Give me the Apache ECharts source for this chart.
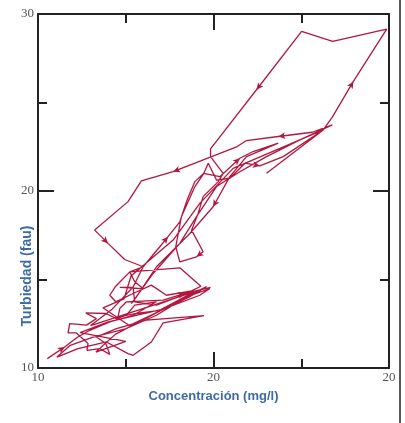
<!DOCTYPE html>
<html>
<head>
<meta charset="utf-8">
<script src="https://cdn.jsdelivr.net/npm/echarts@6/dist/echarts.min.js"></script>
<style>
  html, body { margin: 0; padding: 0; background: #fff; }
  #main { width: 405px; height: 423px; }
</style>
</head>
<body>
<div id="main"></div>
<script>
// trayectoria concentración (mg/l) - turbiedad (fau), en orden
const concentracion = [
  10.53, 11.52, 12.22, 12.95, 14.09, 15.42, 16.75, 15.51, 15.04, 14.47,
  13.86, 12.72, 13.33, 12.76, 11.81, 11.71, 12.19, 12.85, 12.79, 13.52,
  14.09, 13.86, 13.33, 14.47, 16.18, 19.45, 17.13, 16.46, 15.42, 15.13,
  13.90, 12.28, 11.08, 11.84, 13.14, 15.04, 16.75, 18.46, 19.79, 19.22,
  16.94, 15.61, 14.56, 14.66, 15.04, 17.13, 18.37, 19.83, 18.75, 16.75,
  15.51, 15.42, 14.66, 15.99, 15.51, 15.23, 18.08, 19.28, 18.75, 17.32,
  16.46, 15.42, 14.43, 14.09, 14.43, 15.23, 15.99, 16.94, 17.41, 18.08,
  18.46, 18.94, 19.45, 19.70, 20.17, 20.93, 21.79, 22.64, 23.97, 26.25,
  26.77, 27.97, 29.87, 26.79, 25.02, 22.45, 19.83, 19.83, 20.55, 20.27,
  19.41, 19.13, 18.75, 19.41, 19.03, 18.08, 17.85, 18.17, 18.94, 19.45,
  20.36, 21.50, 22.26, 23.69, 21.88, 20.93, 19.98, 18.65, 17.51, 16.75,
  15.61, 15.32, 16.56, 18.08, 19.03, 20.17, 21.50, 23.02, 24.92, 26.77,
  25.63, 23.69, 21.88, 21.35, 17.70, 15.89, 15.13, 13.23, 13.99, 14.94,
  15.99, 15.42, 14.20, 13.00, 18.90, 17.00, 14.00, 12.40, 15.00, 13.30,
  14.40, 19.60, 18.60, 15.20, 13.70, 14.90, 15.30,
  17.70, 19.22, 21.12, 26.25, 23.02
];
const turbiedad = [
  10.53, 11.19, 11.72, 12.13, 12.60, 12.98, 13.74, 13.55, 12.98, 12.79,
  13.08, 13.11, 12.79, 12.42, 12.51, 11.98, 11.98, 11.38, 11.00, 11.09,
  10.77, 11.38, 11.75, 12.23, 12.70, 12.96, 12.55, 11.47, 10.72, 10.81,
  11.47, 11.09, 10.62, 11.28, 11.75, 12.23, 12.98, 14.02, 14.49, 14.11,
  13.26, 13.08, 12.89, 13.36, 13.74, 13.83, 14.21, 14.55, 14.30, 13.55,
  13.74, 14.55, 14.55, 14.49, 14.87, 15.43, 15.66, 14.62, 14.36, 14.11,
  14.68, 14.21, 13.74, 14.11, 14.62, 15.43, 15.72, 16.85, 17.42, 18.26,
  19.40, 20.53, 21.00, 21.57, 20.62, 20.72, 21.57, 21.42, 21.94, 23.45,
  24.17, 26.19, 29.15, 28.45, 29.02, 25.72, 22.38, 21.94, 21.00, 20.53,
  19.68, 18.74, 17.79, 16.57, 16.28, 16.00, 16.85, 18.55, 20.25, 21.00,
  20.81, 21.85, 22.23, 22.70, 21.94, 20.81, 19.11, 17.60, 16.47, 15.72,
  14.02, 13.64, 15.34, 17.04, 18.55, 20.25, 21.09, 21.94, 22.89, 23.74,
  23.32, 23.08, 22.85, 22.51, 21.09, 20.57, 19.40, 17.79, 17.04, 16.13,
  15.72, 14.58, 13.30, 12.40, 14.30, 13.30, 12.60, 12.00, 11.50, 10.90,
  11.90, 14.60, 14.00, 12.40, 13.40, 13.90, 15.20,
  17.23, 19.30, 21.28, 23.45, 21.00
];
// puntos con flecha de sentido
const flechas = [1, 46, 68, 77, 81, 85, 94, 101, 106, 121, 124, 128, 134];

const xTickValues = [10, 20, 30];
const xTickLabels = ['10', '20', '20'];
const yTickValues = [10, 20, 30];
const yTickLabels = ['10', '20', '30'];

const rojo = '#b3163f';
const negro = '#222';

const puntos = concentracion.map((c, i) => {
  const item = { value: [c, turbiedad[i]] };
  if (flechas.includes(i)) {
    const ang = Math.atan2(turbiedad[i] - turbiedad[i - 1], c - concentracion[i - 1]) * 180 / Math.PI;
    item.symbol = 'arrow';
    item.symbolSize = [5, 7];
    item.symbolRotate = ang - 90;
  }
  return item;
});

const chart = echarts.init(document.getElementById('main'));

// ejes con ticks hacia adentro en los cuatro lados
const ejeBase = {
  type: 'value',
  min: 10,
  max: 30,
  interval: 10,
  splitLine: { show: false },
  axisLine: { show: true, onZero: false, lineStyle: { color: negro, width: 2 } },
  axisTick: { show: true, inside: true, length: 16, lineStyle: { color: negro, width: 2 } },
  minorTick: { show: true, splitNumber: 2, length: 9, lineStyle: { color: negro, width: 2 } }
};

const etiqueta = {
  color: '#555',
  fontFamily: 'Liberation Serif',
  fontSize: 13
};

chart.setOption({
  animation: false,
  grid: { left: 38, right: 16, top: 14, bottom: 55, outerBoundsMode: 'none' },
  xAxis: [
    Object.assign({}, ejeBase, {
      position: 'bottom',
      name: 'Concentración (mg/l)',
      nameLocation: 'middle',
      nameGap: 22,
      nameTextStyle: { color: '#3e6ba3', fontFamily: 'Liberation Sans', fontWeight: 'bold', fontSize: 13 },
      axisLabel: Object.assign({}, etiqueta, {
        margin: 3,
        formatter: v => xTickLabels[xTickValues.indexOf(v)] || ''
      })
    }),
    Object.assign({}, ejeBase, { position: 'top', axisLabel: { show: false } })
  ],
  yAxis: [
    Object.assign({}, ejeBase, {
      position: 'left',
      axisLabel: Object.assign({}, etiqueta, {
        margin: 4,
        formatter: v => yTickLabels[yTickValues.indexOf(v)] || ''
      })
    }),
    Object.assign({}, ejeBase, { position: 'right', axisLabel: { show: false } })
  ],
  graphic: [
    {
      type: 'text',
      x: 27,
      y: 276,
      rotation: Math.PI / 2,
      style: {
        text: 'Turbiedad (fau)',
        fill: '#3e6ba3',
        font: 'bold 14px "Liberation Sans"',
        textAlign: 'center',
        textVerticalAlign: 'middle'
      }
    },
    {
      type: 'line',
      shape: { x1: 400, y1: 0, x2: 400, y2: 423 },
      style: { stroke: negro, lineWidth: 1.5 }
    }
  ],
  series: [
    {
      type: 'line',
      xAxisIndex: 0,
      yAxisIndex: 0,
      data: puntos,
      symbol: 'none',
      showSymbol: true,
      color: rojo,
      lineStyle: { color: rojo, width: 1.3 },
      itemStyle: { color: rojo },
      emphasis: { disabled: true }
    }
  ]
});
</script>
</body>
</html>
